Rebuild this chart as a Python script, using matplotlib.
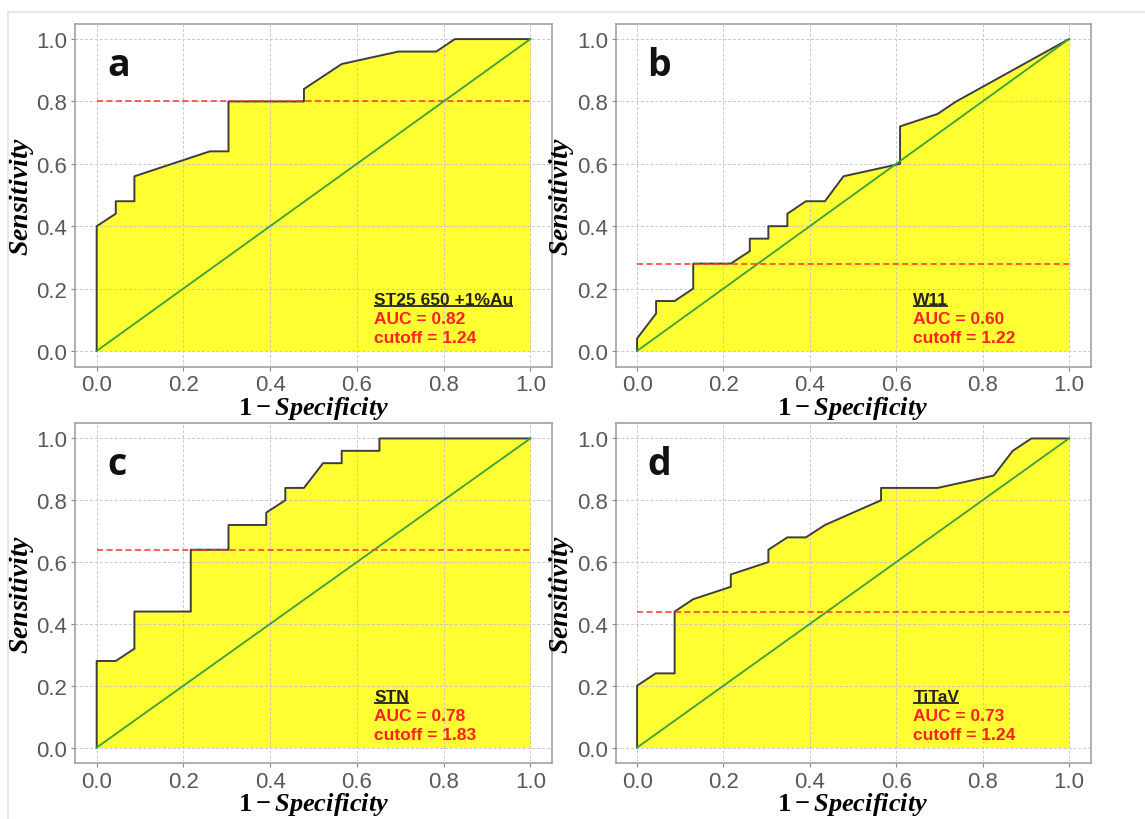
import matplotlib
matplotlib.use("Agg")
import matplotlib.pyplot as plt
from matplotlib.lines import Line2D

# ROC curves (x = 1 - specificity, y = sensitivity)
a_fpr = [0, 0, 0.044, 0.044, 0.087, 0.087, 0.261, 0.304, 0.304, 0.478, 0.478, 0.565, 0.696, 0.783, 0.826, 1]
a_tpr = [0, 0.40, 0.44, 0.48, 0.48, 0.56, 0.64, 0.64, 0.80, 0.80, 0.84, 0.92, 0.96, 0.96, 1.0, 1.0]

b_fpr = [0, 0, 0.044, 0.044, 0.087, 0.13, 0.13, 0.217, 0.261, 0.261, 0.304, 0.304, 0.348,
         0.348, 0.391, 0.435, 0.478, 0.609, 0.609, 0.696, 0.739, 1]
b_tpr = [0, 0.04, 0.12, 0.16, 0.16, 0.20, 0.28, 0.28, 0.32, 0.36, 0.36, 0.40, 0.40,
         0.44, 0.48, 0.48, 0.56, 0.60, 0.72, 0.76, 0.80, 1.0]

c_fpr = [0, 0, 0.044, 0.087, 0.087, 0.217, 0.217, 0.304, 0.304, 0.391, 0.391, 0.435, 0.435,
         0.478, 0.522, 0.565, 0.565, 0.652, 0.652, 1]
c_tpr = [0, 0.28, 0.28, 0.32, 0.44, 0.44, 0.64, 0.64, 0.72, 0.72, 0.76, 0.80, 0.84,
         0.84, 0.92, 0.92, 0.96, 0.96, 1.0, 1.0]

d_fpr = [0, 0, 0.043, 0.087, 0.087, 0.13, 0.217, 0.217, 0.304, 0.304, 0.348, 0.391, 0.435,
         0.565, 0.565, 0.696, 0.826, 0.87, 0.913, 1]
d_tpr = [0, 0.20, 0.24, 0.24, 0.44, 0.48, 0.52, 0.56, 0.60, 0.64, 0.68, 0.68, 0.72,
         0.80, 0.84, 0.84, 0.88, 0.96, 1.0, 1.0]

letters = ["a", "b", "c", "d"]
names = ["ST25 650 +1%Au", "W11", "STN", "TiTaV"]
auc = [0.82, 0.60, 0.78, 0.73]
cutoff = [1.24, 1.22, 1.83, 1.24]
cut_sens = [0.80, 0.28, 0.64, 0.44]
curves = [(a_fpr, a_tpr), (b_fpr, b_tpr), (c_fpr, c_tpr), (d_fpr, d_tpr)]

plt.rcParams["mathtext.fontset"] = "custom"
plt.rcParams["mathtext.it"] = "Liberation Serif:italic:bold"
plt.rcParams["mathtext.bf"] = "Liberation Serif:bold"
plt.rcParams["mathtext.rm"] = "Liberation Serif:bold"

W, H = 1145, 820
fig = plt.figure(figsize=(W / 100, H / 100), dpi=100)

# faint frame of the screenshot
fig.add_artist(Line2D([8 / W, 1], [1 - 13 / H, 1 - 13 / H], color="#e3e3e3", lw=1.2))
fig.add_artist(Line2D([8 / W, 8 / W], [0, 1 - 13 / H], color="#e3e3e3", lw=1.2))

boxes = [
    [75 / W, 1 - 367.5 / H, 477 / W, 343 / H],
    [615.5 / W, 1 - 367.5 / H, 475 / W, 343 / H],
    [75 / W, 1 - 764 / H, 477 / W, 340 / H],
    [615.5 / W, 1 - 764 / H, 475 / W, 340 / H],
]
ylab_off = -39   # px from left spine to ylabel baseline side

axes = []
for i in range(4):
    ax = fig.add_axes(boxes[i])
    fpr, tpr = curves[i]
    ax.fill_between(fpr, tpr, 0, color="#ffff33", lw=0, zorder=1)
    ax.plot(fpr, tpr, color="#3d3d3d", lw=1.4, zorder=4)
    ax.plot([0, 1], [0, 1], color="#3a9e3a", lw=1.3, zorder=4)
    ax.plot([0, 1], [cut_sens[i], cut_sens[i]], color="#ff3333", lw=1.1,
            dashes=(4, 2.2), zorder=4)

    ax.set_xlim(-0.05, 1.05)
    ax.set_ylim(-0.05, 1.05)
    ticks = [0, 0.2, 0.4, 0.6, 0.8, 1.0]
    ax.set_xticks(ticks)
    ax.set_yticks(ticks)
    ax.set_xticklabels(["%.1f" % t for t in ticks])
    ax.set_yticklabels(["%.1f" % t for t in ticks])
    ax.set_axisbelow(False)
    ax.grid(True, color="#c8c8c8", lw=0.7, ls=(0, (3, 2)), zorder=2)
    for s in ax.spines.values():
        s.set_color("#9a9a9a")
        s.set_linewidth(1.1)
    ax.tick_params(length=3, width=0.8, color="#8a8a8a", labelcolor="#595959",
                   labelsize=16, pad=2.5)
    for lab in ax.get_xticklabels() + ax.get_yticklabels():
        lab.set_family("Liberation Sans")

    ax.set_xlabel(r"$\mathbf{1} - Specificity$", fontsize=19, labelpad=-1)
    ax.set_ylabel(r"$Sensitivity$", fontsize=20)
    ax.yaxis.set_label_coords(ylab_off / (boxes[i][2] * W), 0.5)

    ax.text(0.024, 0.885, letters[i], fontsize=27, fontweight="bold",
            family="Open Sans", color="#111111", ha="left", va="baseline", zorder=5)

    ax.text(0.64, 0.166, names[i], fontsize=12.5, fontweight="bold",
            family="Liberation Sans", color="#222222", ha="left", va="center", zorder=5)
    ax.text(0.64, 0.104, "AUC = %.2f" % auc[i], fontsize=12.5, fontweight="bold",
            family="Liberation Sans", color="#ff2020", ha="left", va="center", zorder=5)
    ax.text(0.64, 0.043, "cutoff = %.2f" % cutoff[i], fontsize=12.5, fontweight="bold",
            family="Liberation Sans", color="#ff2020", ha="left", va="center", zorder=5)
    axes.append(ax)

# underline the sample names
renderer = fig.canvas.get_renderer()
for ax in axes:
    t = [tx for tx in ax.texts if tx.get_text() in names][0]
    bb = t.get_window_extent(renderer).transformed(ax.transData.inverted())
    ax.plot([bb.x0, bb.x1], [bb.y0 + 0.003, bb.y0 + 0.003], color="#222222", lw=1.3,
            zorder=5, solid_capstyle="butt")

fig.savefig("out.png", dpi=100)
